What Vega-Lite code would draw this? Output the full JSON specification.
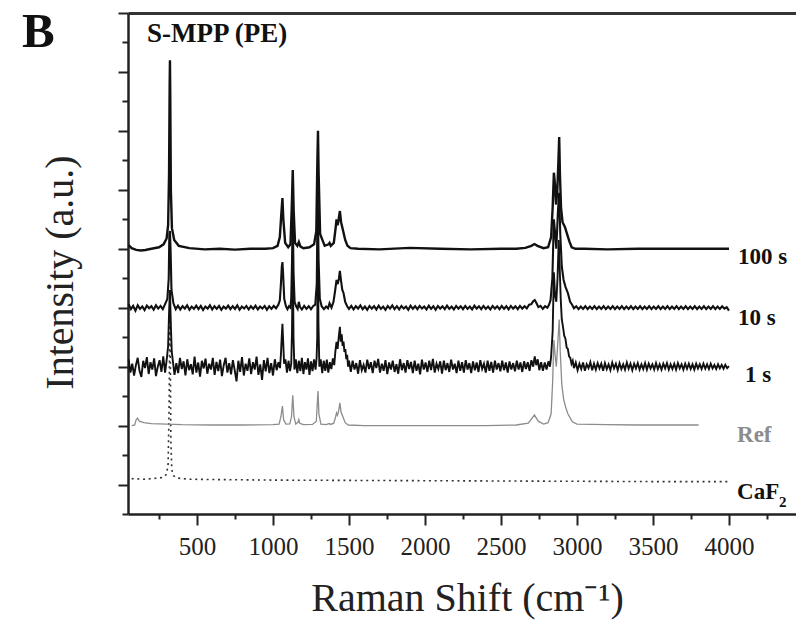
{
  "$schema": "https://vega.github.io/schema/vega-lite/v6.json",
  "width": 668,
  "height": 501,
  "autosize": {"type": "none"},
  "padding": {"left": 128, "top": 13, "right": 0, "bottom": 112},
  "background": "white",
  "config": {"view": {"stroke": null}, "font": "Liberation Serif"},
  "datasets": {
    "s100": [
      {"x":50,"y":9.12},{"x":70,"y":9.02},{"x":100,"y":8.96},{"x":130,"y":8.94},{"x":160,"y":8.96},{"x":200,"y":9.0},{"x":250,"y":9.05},{"x":280,"y":9.15},{"x":300,"y":9.35},{"x":310,"y":9.8},{"x":316,"y":11.5},{"x":320,"y":14.5},{"x":322,"y":15.4},{"x":324,"y":14.3},{"x":328,"y":11.0},{"x":335,"y":9.7},{"x":350,"y":9.3},{"x":380,"y":9.1},{"x":450,"y":9.02},{"x":550,"y":8.98},{"x":650,"y":9.0},{"x":750,"y":8.97},{"x":850,"y":9.0},{"x":950,"y":9.0},{"x":1000,"y":9.02},{"x":1030,"y":9.1},{"x":1045,"y":9.4},{"x":1055,"y":10.2},{"x":1062,"y":10.72},{"x":1068,"y":10.0},{"x":1080,"y":9.2},{"x":1100,"y":9.05},{"x":1115,"y":9.15},{"x":1124,"y":10.5},{"x":1130,"y":11.67},{"x":1136,"y":10.3},{"x":1145,"y":9.2},{"x":1160,"y":9.1},{"x":1170,"y":9.23},{"x":1180,"y":9.08},{"x":1200,"y":9.02},{"x":1240,"y":9.05},{"x":1270,"y":9.15},{"x":1285,"y":9.6},{"x":1292,"y":12.0},{"x":1296,"y":13.0},{"x":1300,"y":11.6},{"x":1310,"y":9.5},{"x":1340,"y":9.1},{"x":1365,"y":9.15},{"x":1372,"y":9.2},{"x":1380,"y":9.1},{"x":1400,"y":9.2},{"x":1412,"y":9.7},{"x":1418,"y":10.0},{"x":1425,"y":9.8},{"x":1432,"y":10.0},{"x":1440,"y":10.28},{"x":1448,"y":9.9},{"x":1460,"y":9.64},{"x":1475,"y":9.3},{"x":1490,"y":9.1},{"x":1510,"y":9.02},{"x":1560,"y":9.0},{"x":1700,"y":8.98},{"x":1900,"y":9.03},{"x":2100,"y":9.0},{"x":2300,"y":8.98},{"x":2500,"y":9.0},{"x":2600,"y":9.0},{"x":2660,"y":9.03},{"x":2700,"y":9.1},{"x":2720,"y":9.16},{"x":2740,"y":9.1},{"x":2780,"y":9.02},{"x":2810,"y":9.05},{"x":2830,"y":9.4},{"x":2840,"y":10.4},{"x":2848,"y":11.58},{"x":2855,"y":11.2},{"x":2862,"y":10.5},{"x":2870,"y":10.9},{"x":2878,"y":12.0},{"x":2883,"y":12.79},{"x":2888,"y":11.5},{"x":2895,"y":10.4},{"x":2905,"y":9.9},{"x":2920,"y":9.75},{"x":2935,"y":9.5},{"x":2950,"y":9.25},{"x":2965,"y":9.05},{"x":2990,"y":9.0},{"x":3050,"y":9.0},{"x":3200,"y":8.98},{"x":3400,"y":9.0},{"x":3600,"y":9.0},{"x":3800,"y":9.0},{"x":4000,"y":9.0}
    ],
    "s10": [
      {"x":50,"y":7.12},{"x":65,"y":6.95},{"x":80,"y":7.06},{"x":95,"y":6.9},{"x":110,"y":7.08},{"x":125,"y":6.96},{"x":140,"y":7.04},{"x":155,"y":6.92},{"x":170,"y":7.07},{"x":185,"y":6.98},{"x":200,"y":7.05},{"x":215,"y":6.93},{"x":230,"y":7.08},{"x":245,"y":6.97},{"x":260,"y":7.06},{"x":275,"y":6.95},{"x":290,"y":7.12},{"x":305,"y":7.3},{"x":314,"y":8.0},{"x":318,"y":9.5},{"x":322,"y":9.6},{"x":326,"y":9.0},{"x":332,"y":7.6},{"x":345,"y":7.15},
      {"x":360,"y":6.95},{"x":375,"y":7.07},{"x":390,"y":6.94},{"x":405,"y":7.05},{"x":420,"y":6.97},{"x":435,"y":7.08},{"x":450,"y":6.93},{"x":465,"y":7.04},{"x":480,"y":6.96},{"x":495,"y":7.07},{"x":510,"y":6.95},{"x":525,"y":7.06},{"x":540,"y":6.92},{"x":555,"y":7.04},{"x":570,"y":6.97},{"x":585,"y":7.08},{"x":600,"y":6.94},{"x":615,"y":7.05},{"x":630,"y":6.96},{"x":645,"y":7.06},{"x":660,"y":6.93},{"x":675,"y":7.04},{"x":690,"y":6.97},{"x":705,"y":7.07},{"x":720,"y":6.95},{"x":735,"y":7.05},{"x":750,"y":6.96},{"x":765,"y":7.08},{"x":780,"y":6.93},{"x":795,"y":7.04},{"x":810,"y":6.97},{"x":825,"y":7.06},{"x":840,"y":6.94},{"x":855,"y":7.05},{"x":870,"y":6.96},{"x":885,"y":7.07},{"x":900,"y":6.94},{"x":915,"y":7.04},{"x":930,"y":6.97},{"x":945,"y":7.06},{"x":960,"y":6.93},{"x":975,"y":7.05},{"x":990,"y":6.96},{"x":1005,"y":7.06},{"x":1020,"y":6.98},{"x":1035,"y":7.1},
      {"x":1045,"y":7.25},{"x":1052,"y":7.8},{"x":1058,"y":8.4},{"x":1062,"y":8.55},{"x":1066,"y":8.2},{"x":1074,"y":7.3},{"x":1085,"y":7.05},{"x":1095,"y":6.95},{"x":1105,"y":7.05},{"x":1115,"y":7.0},{"x":1120,"y":7.3},{"x":1125,"y":8.5},{"x":1130,"y":10.2},{"x":1135,"y":8.2},{"x":1142,"y":7.2},{"x":1152,"y":7.05},{"x":1162,"y":6.96},{"x":1170,"y":7.2},{"x":1178,"y":7.02},{"x":1190,"y":6.94},{"x":1205,"y":7.06},{"x":1220,"y":6.96},{"x":1235,"y":7.05},{"x":1250,"y":6.95},{"x":1265,"y":7.06},{"x":1278,"y":7.1},{"x":1288,"y":7.8},{"x":1294,"y":10.8},{"x":1300,"y":8.6},{"x":1308,"y":7.3},{"x":1320,"y":7.05},{"x":1335,"y":6.95},{"x":1350,"y":7.04},{"x":1362,"y":6.98},{"x":1372,"y":7.15},{"x":1385,"y":7.0},{"x":1398,"y":7.2},{"x":1408,"y":7.55},{"x":1418,"y":7.94},{"x":1426,"y":7.8},{"x":1434,"y":8.0},{"x":1440,"y":8.25},{"x":1448,"y":7.9},{"x":1456,"y":7.6},{"x":1464,"y":7.5},{"x":1475,"y":7.2},{"x":1488,"y":7.05},{"x":1500,"y":6.96},
      {"x":1515,"y":7.06},{"x":1530,"y":6.94},{"x":1545,"y":7.05},{"x":1560,"y":6.97},{"x":1575,"y":7.08},{"x":1590,"y":6.95},{"x":1605,"y":7.04},{"x":1620,"y":6.93},{"x":1635,"y":7.06},{"x":1650,"y":6.97},{"x":1665,"y":7.05},{"x":1680,"y":6.94},{"x":1695,"y":7.07},{"x":1710,"y":6.96},{"x":1725,"y":7.04},{"x":1740,"y":6.93},{"x":1755,"y":7.06},{"x":1770,"y":6.97},{"x":1785,"y":7.08},{"x":1800,"y":6.95},{"x":1815,"y":7.05},{"x":1830,"y":6.94},{"x":1845,"y":7.06},{"x":1860,"y":6.97},{"x":1875,"y":7.04},{"x":1890,"y":6.93},{"x":1905,"y":7.07},{"x":1920,"y":6.96},{"x":1935,"y":7.05},{"x":1950,"y":6.95},{"x":1965,"y":7.06},{"x":1980,"y":6.97},{"x":1995,"y":7.04},{"x":2010,"y":6.94},{"x":2025,"y":7.07},{"x":2040,"y":6.96},{"x":2055,"y":7.05},{"x":2070,"y":6.93},{"x":2085,"y":7.06},{"x":2100,"y":6.97},{"x":2115,"y":7.05},{"x":2130,"y":6.95},{"x":2145,"y":7.07},{"x":2160,"y":6.96},{"x":2175,"y":7.04},{"x":2190,"y":6.94},{"x":2205,"y":7.06},{"x":2220,"y":6.97},{"x":2235,"y":7.05},{"x":2250,"y":6.95},{"x":2265,"y":7.06},{"x":2280,"y":6.96},{"x":2295,"y":7.04},{"x":2310,"y":6.94},{"x":2325,"y":7.07},{"x":2340,"y":6.97},{"x":2355,"y":7.05},{"x":2370,"y":6.95},{"x":2385,"y":7.06},{"x":2400,"y":6.96},{"x":2415,"y":7.04},{"x":2430,"y":6.94},{"x":2445,"y":7.06},{"x":2460,"y":6.97},{"x":2475,"y":7.05},{"x":2490,"y":6.95},{"x":2505,"y":7.06},{"x":2520,"y":6.96},{"x":2535,"y":7.05},{"x":2550,"y":6.94},{"x":2565,"y":7.06},{"x":2580,"y":6.97},{"x":2595,"y":7.05},{"x":2610,"y":6.95},{"x":2625,"y":7.06},{"x":2640,"y":6.97},{"x":2655,"y":7.05},{"x":2670,"y":6.98},{"x":2685,"y":7.1},
      {"x":2700,"y":7.12},{"x":2712,"y":7.22},{"x":2722,"y":7.26},{"x":2734,"y":7.15},{"x":2746,"y":7.02},{"x":2760,"y":7.06},{"x":2775,"y":6.96},{"x":2790,"y":7.05},{"x":2805,"y":7.0},{"x":2816,"y":7.1},{"x":2826,"y":7.25},{"x":2838,"y":8.0},{"x":2848,"y":10.0},{"x":2855,"y":9.6},{"x":2864,"y":9.0},{"x":2875,"y":10.3},{"x":2883,"y":10.9},{"x":2890,"y":9.5},{"x":2900,"y":8.4},{"x":2912,"y":7.94},{"x":2925,"y":7.7},{"x":2940,"y":7.5},{"x":2955,"y":7.2},{"x":2968,"y":7.1},{"x":2980,"y":6.98},
      {"x":2995,"y":7.05},{"x":3010,"y":6.95},{"x":3025,"y":7.04},{"x":3040,"y":6.96},{"x":3055,"y":7.05},{"x":3070,"y":6.95},{"x":3085,"y":7.04},{"x":3100,"y":6.96},{"x":3115,"y":7.05},{"x":3130,"y":6.95},{"x":3145,"y":7.04},{"x":3160,"y":6.96},{"x":3175,"y":7.05},{"x":3190,"y":6.95},{"x":3205,"y":7.04},{"x":3220,"y":6.96},{"x":3235,"y":7.05},{"x":3250,"y":6.95},{"x":3265,"y":7.04},{"x":3280,"y":6.96},{"x":3295,"y":7.05},{"x":3310,"y":6.95},{"x":3325,"y":7.04},{"x":3340,"y":6.96},{"x":3355,"y":7.05},{"x":3370,"y":6.95},{"x":3385,"y":7.04},{"x":3400,"y":6.96},{"x":3415,"y":7.05},{"x":3430,"y":6.95},{"x":3445,"y":7.04},{"x":3460,"y":6.96},{"x":3475,"y":7.05},{"x":3490,"y":6.95},{"x":3505,"y":7.04},{"x":3520,"y":6.96},{"x":3535,"y":7.05},{"x":3550,"y":6.95},{"x":3565,"y":7.04},{"x":3580,"y":6.96},{"x":3595,"y":7.05},{"x":3610,"y":6.95},{"x":3625,"y":7.04},{"x":3640,"y":6.96},{"x":3655,"y":7.05},{"x":3670,"y":6.95},{"x":3685,"y":7.04},{"x":3700,"y":6.96},{"x":3715,"y":7.05},{"x":3730,"y":6.95},{"x":3745,"y":7.04},{"x":3760,"y":6.96},{"x":3775,"y":7.05},{"x":3790,"y":6.95},{"x":3805,"y":7.04},{"x":3820,"y":6.96},{"x":3835,"y":7.05},{"x":3850,"y":6.95},{"x":3865,"y":7.04},{"x":3880,"y":6.96},{"x":3895,"y":7.05},{"x":3910,"y":6.95},{"x":3925,"y":7.04},{"x":3940,"y":6.96},{"x":3955,"y":7.05},{"x":3970,"y":6.97},{"x":3985,"y":7.02},{"x":4000,"y":6.9}
    ],
    "s1": [
      {"x":50,"y":5.25},{"x":62,"y":4.8},{"x":74,"y":5.1},{"x":86,"y":4.7},{"x":98,"y":5.05},{"x":110,"y":5.3},{"x":122,"y":4.85},{"x":134,"y":4.65},{"x":146,"y":5.2},{"x":158,"y":4.95},{"x":170,"y":5.32},{"x":182,"y":4.75},{"x":194,"y":5.15},{"x":206,"y":4.9},{"x":218,"y":5.28},{"x":230,"y":4.68},{"x":242,"y":5.0},{"x":254,"y":5.22},{"x":266,"y":4.82},{"x":278,"y":5.35},{"x":290,"y":4.8},{"x":302,"y":5.3},{"x":310,"y":5.7},{"x":316,"y":6.8},{"x":322,"y":7.6},{"x":328,"y":6.4},{"x":334,"y":5.5},{"x":342,"y":5.15},
      {"x":352,"y":4.72},{"x":364,"y":5.12},{"x":376,"y":4.78},{"x":388,"y":5.3},{"x":400,"y":4.92},{"x":412,"y":5.18},{"x":424,"y":4.7},{"x":436,"y":5.25},{"x":448,"y":4.88},{"x":460,"y":5.08},{"x":472,"y":4.74},{"x":484,"y":5.34},{"x":496,"y":4.8},{"x":508,"y":5.14},{"x":520,"y":4.66},{"x":532,"y":5.2},{"x":544,"y":4.94},{"x":556,"y":5.27},{"x":568,"y":4.76},{"x":580,"y":5.1},{"x":592,"y":4.9},{"x":604,"y":5.3},{"x":616,"y":4.72},{"x":628,"y":5.16},{"x":640,"y":4.85},{"x":652,"y":5.24},{"x":664,"y":4.68},{"x":676,"y":5.05},{"x":688,"y":5.3},{"x":700,"y":4.8},{"x":712,"y":5.12},{"x":724,"y":4.74},{"x":736,"y":5.22},{"x":748,"y":4.88},{"x":760,"y":4.5},{"x":772,"y":5.2},{"x":784,"y":4.82},{"x":796,"y":5.32},{"x":808,"y":4.7},{"x":820,"y":5.1},{"x":832,"y":4.86},{"x":844,"y":5.28},{"x":856,"y":4.75},{"x":868,"y":5.15},{"x":880,"y":4.9},{"x":892,"y":5.34},{"x":904,"y":4.72},{"x":916,"y":5.08},{"x":928,"y":4.55},{"x":940,"y":5.22},{"x":952,"y":4.84},{"x":964,"y":5.3},{"x":976,"y":4.78},{"x":988,"y":5.12},{"x":1000,"y":4.7},{"x":1012,"y":5.25},{"x":1024,"y":4.88},{"x":1036,"y":5.15},
      {"x":1046,"y":4.95},{"x":1052,"y":5.4},{"x":1057,"y":5.95},{"x":1062,"y":6.45},{"x":1067,"y":5.85},{"x":1073,"y":5.1},{"x":1082,"y":5.25},{"x":1092,"y":4.8},{"x":1102,"y":5.2},{"x":1112,"y":4.85},{"x":1120,"y":5.1},{"x":1125,"y":6.2},{"x":1130,"y":8.8},{"x":1135,"y":6.0},{"x":1141,"y":4.9},{"x":1150,"y":5.25},{"x":1160,"y":4.78},{"x":1170,"y":5.2},{"x":1180,"y":4.85},{"x":1190,"y":5.3},{"x":1200,"y":4.75},{"x":1210,"y":5.15},{"x":1220,"y":4.9},{"x":1230,"y":5.28},{"x":1240,"y":4.72},{"x":1250,"y":5.18},{"x":1260,"y":4.85},{"x":1270,"y":5.25},{"x":1280,"y":4.9},{"x":1287,"y":5.3},{"x":1291,"y":6.0},{"x":1295,"y":9.6},{"x":1299,"y":6.5},{"x":1305,"y":5.0},{"x":1314,"y":5.25},{"x":1324,"y":4.78},{"x":1334,"y":5.2},{"x":1344,"y":4.86},{"x":1354,"y":5.24},{"x":1364,"y":4.8},{"x":1374,"y":5.15},{"x":1384,"y":4.92},{"x":1394,"y":5.28},{"x":1403,"y":5.05},{"x":1410,"y":5.5},{"x":1418,"y":5.84},{"x":1425,"y":5.6},{"x":1432,"y":5.98},{"x":1440,"y":6.35},{"x":1446,"y":5.85},{"x":1452,"y":6.1},{"x":1458,"y":5.7},{"x":1464,"y":5.85},{"x":1470,"y":5.5},{"x":1476,"y":5.6},{"x":1482,"y":5.25},{"x":1488,"y":5.4},{"x":1494,"y":5.0},{"x":1500,"y":5.2},
      {"x":1512,"y":4.82},{"x":1524,"y":5.2},{"x":1536,"y":4.9},{"x":1548,"y":5.12},{"x":1560,"y":4.76},{"x":1572,"y":5.22},{"x":1584,"y":4.88},{"x":1596,"y":5.06},{"x":1608,"y":4.8},{"x":1620,"y":5.24},{"x":1632,"y":4.92},{"x":1644,"y":5.15},{"x":1656,"y":4.78},{"x":1668,"y":5.2},{"x":1680,"y":4.95},{"x":1692,"y":5.26},{"x":1704,"y":4.8},{"x":1716,"y":5.1},{"x":1728,"y":4.86},{"x":1740,"y":5.22},{"x":1752,"y":4.75},{"x":1764,"y":5.14},{"x":1776,"y":4.9},{"x":1788,"y":5.2},{"x":1800,"y":4.82},{"x":1812,"y":5.08},{"x":1824,"y":4.76},{"x":1836,"y":5.25},{"x":1848,"y":4.88},{"x":1860,"y":5.12},{"x":1872,"y":4.8},{"x":1884,"y":5.22},{"x":1896,"y":4.92},{"x":1908,"y":5.16},{"x":1920,"y":4.78},{"x":1932,"y":5.2},{"x":1944,"y":4.86},{"x":1956,"y":5.1},{"x":1968,"y":4.74},{"x":1980,"y":5.24},{"x":1992,"y":4.9},{"x":2004,"y":5.14},{"x":2016,"y":4.82},{"x":2028,"y":5.2},{"x":2040,"y":4.88},{"x":2052,"y":5.26},{"x":2064,"y":4.8},{"x":2076,"y":5.1},{"x":2088,"y":4.92},{"x":2100,"y":5.18},{"x":2112,"y":4.76},{"x":2124,"y":5.2},{"x":2136,"y":4.88},{"x":2148,"y":5.12},{"x":2160,"y":4.82},{"x":2172,"y":5.24},{"x":2184,"y":4.9},{"x":2196,"y":5.1},{"x":2208,"y":4.78},{"x":2220,"y":5.2},{"x":2232,"y":4.86},{"x":2244,"y":5.15},{"x":2256,"y":4.8},{"x":2268,"y":5.22},{"x":2280,"y":4.9},{"x":2292,"y":5.12},{"x":2304,"y":4.78},{"x":2316,"y":5.18},{"x":2328,"y":4.88},{"x":2340,"y":5.14},{"x":2352,"y":4.82},{"x":2364,"y":5.22},{"x":2376,"y":4.92},{"x":2388,"y":5.1},{"x":2400,"y":4.8},{"x":2412,"y":5.2},{"x":2424,"y":4.86},{"x":2436,"y":5.16},{"x":2448,"y":4.8},{"x":2460,"y":5.2},{"x":2472,"y":4.9},{"x":2484,"y":5.12},{"x":2496,"y":4.84},{"x":2508,"y":5.2},{"x":2520,"y":4.88},{"x":2532,"y":5.14},{"x":2544,"y":4.8},{"x":2556,"y":5.18},{"x":2568,"y":4.9},{"x":2580,"y":5.12},{"x":2592,"y":4.84},{"x":2604,"y":5.2},{"x":2616,"y":4.9},{"x":2628,"y":5.14},{"x":2640,"y":4.82},{"x":2652,"y":5.18},{"x":2664,"y":4.92},{"x":2676,"y":5.15},{"x":2688,"y":4.86},{"x":2700,"y":5.22},{"x":2712,"y":5.0},{"x":2722,"y":5.35},{"x":2732,"y":5.05},{"x":2742,"y":5.25},{"x":2752,"y":4.88},{"x":2764,"y":5.15},{"x":2776,"y":4.86},{"x":2788,"y":5.14},{"x":2800,"y":4.9},{"x":2812,"y":5.18},{"x":2822,"y":5.0},{"x":2830,"y":5.35},
      {"x":2840,"y":6.2},{"x":2848,"y":8.2},{"x":2856,"y":7.4},{"x":2864,"y":7.2},{"x":2872,"y":8.0},{"x":2880,"y":9.3},{"x":2886,"y":8.4},{"x":2893,"y":7.3},{"x":2900,"y":6.6},{"x":2908,"y":6.35},{"x":2916,"y":6.05},{"x":2924,"y":5.95},{"x":2932,"y":5.65},{"x":2940,"y":5.6},{"x":2948,"y":5.35},{"x":2956,"y":5.3},{"x":2964,"y":5.1},{"x":2972,"y":5.2},{"x":2980,"y":4.95},
      {"x":2992,"y":5.14},{"x":3004,"y":4.88},{"x":3016,"y":5.1},{"x":3028,"y":4.92},{"x":3040,"y":5.14},{"x":3052,"y":4.86},{"x":3064,"y":5.08},{"x":3076,"y":4.95},{"x":3088,"y":5.15},{"x":3100,"y":4.88},{"x":3112,"y":5.1},{"x":3124,"y":4.9},{"x":3136,"y":5.12},{"x":3148,"y":4.94},{"x":3160,"y":5.1},{"x":3172,"y":4.86},{"x":3184,"y":5.12},{"x":3196,"y":4.92},{"x":3208,"y":5.08},{"x":3220,"y":4.88},{"x":3232,"y":5.14},{"x":3244,"y":4.94},{"x":3256,"y":5.1},{"x":3268,"y":4.88},{"x":3280,"y":5.12},{"x":3292,"y":4.92},{"x":3304,"y":5.08},{"x":3316,"y":4.9},{"x":3328,"y":5.14},{"x":3340,"y":4.93},{"x":3352,"y":5.1},{"x":3364,"y":4.88},{"x":3376,"y":5.1},{"x":3388,"y":4.94},{"x":3400,"y":5.12},{"x":3412,"y":4.9},{"x":3424,"y":5.08},{"x":3436,"y":4.92},{"x":3448,"y":5.12},{"x":3460,"y":4.9},{"x":3472,"y":5.1},{"x":3484,"y":4.94},{"x":3496,"y":5.08},{"x":3508,"y":4.9},{"x":3520,"y":5.12},{"x":3532,"y":4.92},{"x":3544,"y":5.08},{"x":3556,"y":4.9},{"x":3568,"y":5.1},{"x":3580,"y":4.94},{"x":3592,"y":5.12},{"x":3604,"y":4.9},{"x":3616,"y":5.08},{"x":3628,"y":4.92},{"x":3640,"y":5.1},{"x":3652,"y":4.9},{"x":3664,"y":5.12},{"x":3676,"y":4.94},{"x":3688,"y":5.08},{"x":3700,"y":4.9},{"x":3712,"y":5.1},{"x":3724,"y":4.93},{"x":3736,"y":5.1},{"x":3748,"y":4.92},{"x":3760,"y":5.08},{"x":3772,"y":4.9},{"x":3784,"y":5.1},{"x":3796,"y":4.94},{"x":3808,"y":5.08},{"x":3820,"y":4.92},{"x":3832,"y":5.1},{"x":3844,"y":4.93},{"x":3856,"y":5.08},{"x":3868,"y":4.92},{"x":3880,"y":5.1},{"x":3892,"y":4.94},{"x":3904,"y":5.06},{"x":3916,"y":4.92},{"x":3928,"y":5.08},{"x":3940,"y":4.94},{"x":3952,"y":5.06},{"x":3964,"y":4.93},{"x":3976,"y":5.06},{"x":3988,"y":4.95},{"x":4000,"y":5.02}
    ],
    "ref": [
      {"x":70,"y":3.0},{"x":90,"y":3.02},{"x":100,"y":3.2},{"x":108,"y":3.25},{"x":120,"y":3.15},{"x":150,"y":3.1},{"x":200,"y":3.07},{"x":300,"y":3.05},{"x":400,"y":3.03},{"x":600,"y":3.02},{"x":800,"y":3.02},{"x":1000,"y":3.03},{"x":1040,"y":3.05},{"x":1052,"y":3.3},{"x":1062,"y":3.66},{"x":1070,"y":3.2},{"x":1085,"y":3.05},{"x":1110,"y":3.06},{"x":1122,"y":3.3},{"x":1130,"y":4.03},{"x":1138,"y":3.3},{"x":1150,"y":3.05},{"x":1165,"y":3.12},{"x":1170,"y":3.2},{"x":1176,"y":3.08},{"x":1200,"y":3.03},{"x":1260,"y":3.04},{"x":1285,"y":3.15},{"x":1292,"y":3.8},{"x":1296,"y":4.17},{"x":1302,"y":3.4},{"x":1315,"y":3.05},{"x":1350,"y":3.03},{"x":1370,"y":3.07},{"x":1380,"y":3.04},{"x":1400,"y":3.08},{"x":1412,"y":3.3},{"x":1418,"y":3.43},{"x":1424,"y":3.35},{"x":1432,"y":3.5},{"x":1440,"y":3.77},{"x":1448,"y":3.45},{"x":1460,"y":3.3},{"x":1475,"y":3.1},{"x":1495,"y":3.02},{"x":1600,"y":3.0},{"x":1800,"y":3.0},{"x":2000,"y":3.0},{"x":2200,"y":3.0},{"x":2400,"y":3.0},{"x":2600,"y":3.02},{"x":2680,"y":3.08},{"x":2720,"y":3.36},{"x":2745,"y":3.15},{"x":2780,"y":3.05},{"x":2810,"y":3.1},{"x":2830,"y":3.4},{"x":2840,"y":4.5},{"x":2848,"y":5.9},{"x":2856,"y":5.4},{"x":2864,"y":5.0},{"x":2876,"y":6.0},{"x":2883,"y":6.6},{"x":2890,"y":5.5},{"x":2900,"y":4.4},{"x":2912,"y":3.9},{"x":2925,"y":3.63},{"x":2940,"y":3.4},{"x":2955,"y":3.26},{"x":2970,"y":3.13},{"x":3000,"y":3.05},{"x":3200,"y":3.03},{"x":3400,"y":3.02},{"x":3600,"y":3.02},{"x":3800,"y":3.02}
    ],
    "caf2": [
      {"x":70,"y":1.2},{"x":150,"y":1.18},{"x":200,"y":1.2},{"x":250,"y":1.22},{"x":280,"y":1.25},{"x":300,"y":1.35},{"x":310,"y":1.7},{"x":316,"y":3.5},{"x":320,"y":6.0},{"x":322,"y":6.8},{"x":324,"y":5.8},{"x":328,"y":2.5},{"x":334,"y":1.5},{"x":345,"y":1.3},{"x":370,"y":1.22},{"x":450,"y":1.18},{"x":600,"y":1.17},{"x":1000,"y":1.15},{"x":1500,"y":1.14},{"x":2000,"y":1.13},{"x":2500,"y":1.12},{"x":3000,"y":1.11},{"x":3500,"y":1.1},{"x":4000,"y":1.1}
    ],
    "labels": [
      {"label":"100 s","x":4059,"y":8.72},
      {"label":"10 s","x":4059,"y":6.65},
      {"label":"1 s","x":4105,"y":4.72},
      {"label":"Ref","x":4053,"y":2.68},
      {"label":"CaF","x":4053,"y":0.75}
    ],
    "sub": [{"label":"2","x":4329,"y":0.4}],
    "panel": [{"label":"B","x":-651,"y":15.85}],
    "sample": [{"label":"S-MPP (PE)","x":171,"y":16.02}]
  },
  "resolve": {"axis": {"x": "independent", "y": "independent"}},
  "layer": [
    {
      "data": {"name": "caf2"},
      "mark": {"type": "line", "stroke": "#333", "strokeWidth": 1.6, "strokeDash": [2, 3.7]},
      "encoding": {
        "x": {"field": "x", "type": "quantitative",
          "scale": {"domain": [46, 4441], "nice": false, "zero": false},
          "axis": {
            "orient": "bottom", "domain": true,
            "values": [500,1000,1500,2000,2500,3000,3500,4000],
            "format": "d",
            "tickSize": 11, "tickWidth": 2, "tickColor": "#222",
            "domainColor": "#222", "domainWidth": 2.5,
            "labelFont": "Liberation Serif", "labelFontSize": 25, "labelColor": "#222", "labelPadding": 9,
            "labelFlush": false, "labelOverlap": false,
            "grid": false,
            "title": "Raman Shift (cm⁻¹)",
            "titleFont": "Liberation Serif", "titleFontSize": 40, "titleFontWeight": "normal", "titleColor": "#222",
            "titleX": 339, "titleY": 84, "titleAlign": "center", "titleBaseline": "middle"
          }},
        "y": {"field": "y", "type": "quantitative",
          "scale": {"domain": [0, 17], "nice": false, "zero": false},
          "axis": {
            "orient": "left", "domain": true,
            "values": [1,3,5,7,9,11,13,15,17],
            "labels": false,
            "tickSize": 10, "tickWidth": 2, "tickColor": "#222",
            "domainColor": "#222", "domainWidth": 2.5,
            "grid": false,
            "title": "Intensity (a.u.)",
            "titleFont": "Liberation Serif", "titleFontSize": 40, "titleFontWeight": "normal", "titleColor": "#222",
            "titleAngle": -90, "titleX": -68, "titleY": 259, "titleAlign": "center", "titleBaseline": "middle"
          }}
      }
    },
    {
      "data": {"name": "s1"},
      "mark": {"type": "line", "stroke": "#111", "strokeWidth": 1.9},
      "encoding": {
        "x": {"field": "x", "type": "quantitative",
          "axis": {"orient": "bottom", "values": [250,750,1250,1750,2250,2750,3250,3750,4250], "labels": false, "domain": false, "title": null, "grid": false, "tickSize": 5, "tickWidth": 2, "tickColor": "#222"}},
        "y": {"field": "y", "type": "quantitative",
          "axis": {"orient": "left", "values": [0,2,4,6,8,10,12,14,16], "labels": false, "domain": false, "title": null, "grid": false, "tickSize": 6, "tickWidth": 2, "tickColor": "#222"}}
      }
    },
    {
      "data": {"name": "s10"},
      "mark": {"type": "line", "stroke": "#111", "strokeWidth": 2.1},
      "encoding": {
        "x": {"field": "x", "type": "quantitative", "axis": null},
        "y": {"field": "y", "type": "quantitative", "axis": null}
      }
    },
    {
      "data": {"name": "s100"},
      "mark": {"type": "line", "stroke": "#111", "strokeWidth": 2.4},
      "encoding": {
        "x": {"field": "x", "type": "quantitative", "axis": null},
        "y": {"field": "y", "type": "quantitative", "axis": null}
      }
    },
    {
      "data": {"name": "ref"},
      "mark": {"type": "line", "stroke": "#8c8c8c", "strokeWidth": 1.3},
      "encoding": {
        "x": {"field": "x", "type": "quantitative",
          "axis": {"orient": "top", "labels": false, "ticks": false, "title": null, "grid": false, "domain": true, "domainColor": "#333", "domainWidth": 3}},
        "y": {"field": "y", "type": "quantitative", "axis": null}
      }
    },
    {
      "data": {"name": "labels"},
      "mark": {"type": "text", "font": "Liberation Serif", "fontWeight": "bold", "fontSize": 23, "align": "left", "baseline": "middle"},
      "encoding": {
        "x": {"field": "x", "type": "quantitative", "axis": null},
        "y": {"field": "y", "type": "quantitative", "axis": null},
        "text": {"field": "label"},
        "color": {"condition": {"test": "datum.label === 'Ref'", "value": "#8c8c8c"}, "value": "#111"}
      }
    },
    {
      "data": {"name": "sub"},
      "mark": {"type": "text", "font": "Liberation Serif", "fontWeight": "bold", "fontSize": 15, "align": "left", "baseline": "middle", "color": "#111"},
      "encoding": {
        "x": {"field": "x", "type": "quantitative", "axis": null},
        "y": {"field": "y", "type": "quantitative", "axis": null},
        "text": {"field": "label"}
      }
    },
    {
      "data": {"name": "sample"},
      "mark": {"type": "text", "font": "Liberation Serif", "fontWeight": "bold", "fontSize": 27, "align": "left", "baseline": "alphabetic", "color": "#111"},
      "encoding": {
        "x": {"field": "x", "type": "quantitative", "axis": null},
        "y": {"field": "y", "type": "quantitative", "axis": null},
        "text": {"field": "label"}
      }
    },
    {
      "data": {"name": "panel"},
      "mark": {"type": "text", "font": "Liberation Serif", "fontWeight": "bold", "fontSize": 49, "align": "left", "baseline": "alphabetic", "color": "#111"},
      "encoding": {
        "x": {"field": "x", "type": "quantitative", "axis": null},
        "y": {"field": "y", "type": "quantitative", "axis": null},
        "text": {"field": "label"}
      }
    }
  ]
}
